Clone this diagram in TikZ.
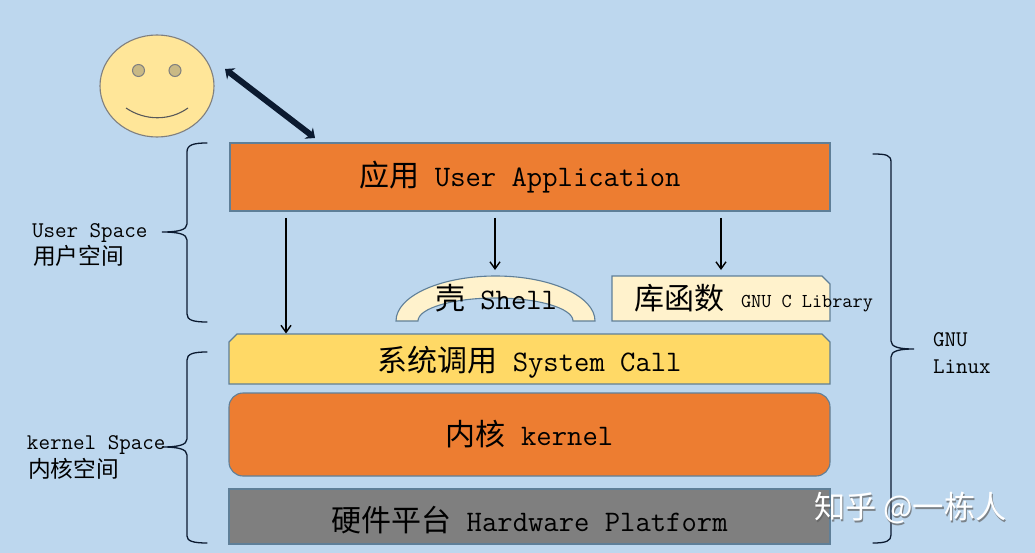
\documentclass[tikz,border=0pt]{standalone}
\usepackage{fontspec}
\usetikzlibrary{shapes.geometric,arrows.meta,calc}
\newfontfamily\cjk{Noto Sans CJK SC}
\definecolor{bgblue}{HTML}{BDD7EE}
\definecolor{orangebox}{HTML}{ED7D31}
\definecolor{yellowbox}{HTML}{FFD966}
\definecolor{creambox}{HTML}{FFF2CC}
\definecolor{facefill}{HTML}{FFE699}
\definecolor{eyefill}{HTML}{C9B985}
\definecolor{grayfill}{HTML}{7F7F7F}
\definecolor{edgeblue}{HTML}{5F7F98}
\definecolor{inkdark}{HTML}{0B1A30}
\newcommand{\fs}[1]{\fontsize{#1}{#1}\selectfont}
\newcommand{\cn}[1]{{\cjk\fs{30}#1}}
\tikzset{
  x=1pt,y=-1pt,
  box/.style={draw=edgeblue,line width=1.1pt,inner sep=0pt,outer sep=0pt,anchor=north west,font=\ttfamily\fs{29.8}},
  plainbox/.style={inner sep=0pt,outer sep=0pt,anchor=north west,font=\ttfamily\fs{29.8}},
  snipedge/.style={draw=edgeblue,line width=1.1pt,line join=miter},
  txt/.style={inner sep=0pt,outer sep=0pt,anchor=west,font=\ttfamily\fs{22.4},text=black},
  bigtxt/.style={txt,font=\ttfamily\fs{29.8}},
  brace/.style={draw=inkdark,line width=1.3pt,line cap=round},
  thinarrow/.style={draw=black,line width=1.5pt,-{Straight Barb[length=7pt,width=10pt,line width=1.4pt]}},
  bigarrow/.style={draw=inkdark,line width=6pt,{Stealth[length=8pt,width=14pt]}-{Stealth[length=8pt,width=14pt]}},
  wmark/.style={inner sep=0pt,outer sep=0pt,anchor=west,font=\cjk\fs{31.2}},
}
\begin{document}
\begin{tikzpicture}
\useasboundingbox (0,0) rectangle (1035,553);
\fill[bgblue] (0,0) rectangle (1035,553);

% face
\node[ellipse,draw=grayfill,line width=1.1pt,fill=facefill,minimum width=114pt,minimum height=102pt,inner sep=0pt,outer sep=0pt] (face) at (157,86) {};
\node[circle,draw=grayfill,line width=1pt,fill=eyefill,minimum size=12pt,inner sep=0pt] (eyeL) at (138.5,70.5) {};
\node[circle,draw=grayfill,line width=1pt,fill=eyefill,minimum size=12pt,inner sep=0pt] (eyeR) at (175,70.5) {};
\draw[draw=grayfill!70!black,line width=1.1pt] (126,108) .. controls (145,121) and (170,121) .. (188,108);

% boxes
\node[box,fill=orangebox,minimum width=600pt,minimum height=68pt] (app) at (230,143) {\hspace*{-20pt}\cn{应用} User Application};
\filldraw[snipedge,fill=yellowbox] (229,384) -- (229,342) -- (237,334) -- (822,334) -- (830,342) -- (830,384) -- cycle;
\node[plainbox,minimum width=601pt,minimum height=50pt] (sys) at (229,334) {\raisebox{-12.5pt}[0pt][0pt]{\cn{系统调用} System Call}};
\node[box,rounded corners=14pt,fill=orangebox,minimum width=601pt,minimum height=83pt] (kern) at (229,393) {\cn{内核} kernel};
\node[box,fill=grayfill,minimum width=601pt,minimum height=55pt] (hw) at (229,489) {\raisebox{-14.5pt}[0pt][0pt]{\cn{硬件平台} Hardware Platform}};
\filldraw[snipedge,fill=creambox] (612,321) -- (612,276) -- (822,276) -- (830,284) -- (830,321) -- cycle;
\node[plainbox,minimum width=218pt,minimum height=45pt] (lib) at (612,276) {};
\node[txt,font=\cjk\fs{30}] (libcn) at (634,298) {库函数};
\node[txt,font=\ttfamily\fs{19.7}] (libtxt) at (741,304) {GNU C Library};

% shell block arc
\filldraw[draw=edgeblue,line width=1.1pt,fill=creambox]
  (396,321) arc[start angle=180,end angle=0,x radius=99.5pt,y radius=45pt]
  -- (573,321) arc[start angle=0,end angle=180,x radius=77.5pt,y radius=23pt] -- cycle;
\node[bigtxt] (shell) at (435,298) {\cn{壳} Shell};

% arrows
\coordinate (a1s) at (286,218); \coordinate (a1e) at (286,333.5);
\coordinate (a2s) at (495,218); \coordinate (a2e) at (495,270);
\coordinate (a3s) at (721,218); \coordinate (a3e) at (721,270);
\draw[thinarrow] (a1s) -- (a1e);
\draw[thinarrow] (a2s) -- (a2e);
\draw[thinarrow] (a3s) -- (a3e);
\coordinate (dbA) at (225,69); \coordinate (dbB) at (315,138);
\draw[bigarrow] (dbA) -- (dbB);

% braces
\draw[brace] (207,143) .. controls (193,143) and (187,145) .. (187,152) -- (187,224)
  .. controls (187,230) and (178,232) .. (162,232)
  .. controls (178,232) and (187,234) .. (187,240) -- (187,314)
  .. controls (187,320) and (193,322) .. (207,322);
\draw[brace] (207,352) .. controls (193,352) and (187,354) .. (187,360) -- (187,439)
  .. controls (187,445) and (178,447) .. (162,447)
  .. controls (178,447) and (187,449) .. (187,455) -- (187,536)
  .. controls (187,541) and (193,543) .. (207,543);
\draw[brace] (873,154) .. controls (886,154) and (891,155) .. (891,162) -- (891,341)
  .. controls (891,347) and (899,349) .. (914,349)
  .. controls (899,349) and (891,351) .. (891,357) -- (891,535)
  .. controls (891,541) and (886,543) .. (873,543);

% side labels
\node[txt] (us) at (32,233) {User Space};
\node[txt,font=\cjk\fs{22.7}] (uscn) at (33,256) {用户空间};
\node[txt] (ks) at (27,445) {kernel Space};
\node[txt,font=\cjk\fs{22.7}] (kscn) at (28,469) {内核空间};
\node[txt] (gnu) at (933,340) {GNU};
\node[txt] (linux) at (933,367) {Linux};

% watermark
\node[wmark,text=gray!75!black,opacity=.7] (wmS) at (815.5,510) {知乎 @一栋人};
\node[wmark,text=white] (wm) at (814,508) {知乎 @一栋人};
\end{tikzpicture}
\end{document}
